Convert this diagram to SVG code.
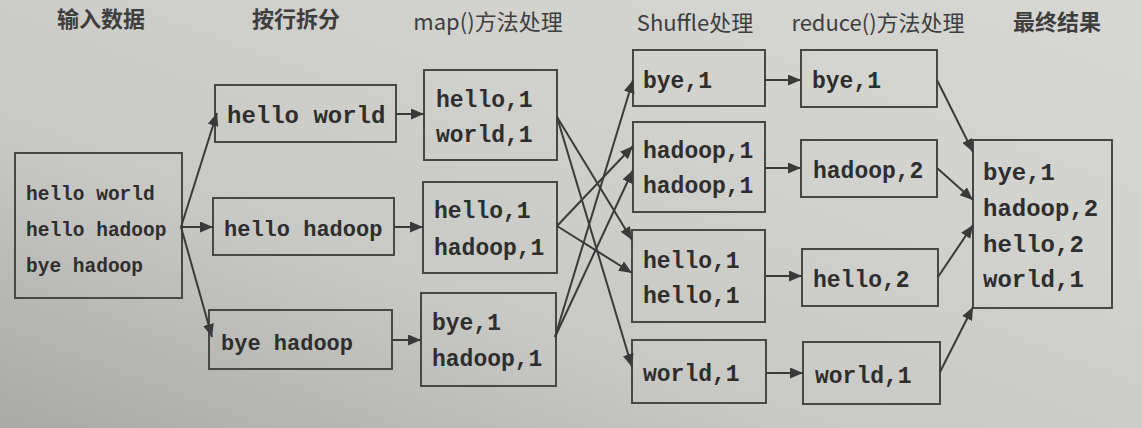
<svg xmlns="http://www.w3.org/2000/svg" width="1142" height="428" viewBox="0 0 1142 428">
<defs>
<linearGradient id="bg" x1="0" y1="1" x2="1" y2="0">
<stop offset="0" stop-color="#a9a9a5"/>
<stop offset="0.35" stop-color="#c8c8c4"/>
<stop offset="0.7" stop-color="#d2d2ce"/>
<stop offset="1" stop-color="#d6d6d2"/>
</linearGradient>
<marker id="ah" markerUnits="userSpaceOnUse" markerWidth="13" markerHeight="11" refX="13" refY="5.5" orient="auto">
<path d="M0,0 L13,5.5 L0,11 z" fill="#3a3a3a"/>
</marker>
<style>
.box{fill:none;stroke:#474747;stroke-width:2}
.m{font-family:"Liberation Mono","Courier New",monospace;font-weight:bold;font-size:23px;fill:#2e2e2e}
.t{font-family:"Noto Sans CJK SC","Noto Sans",sans-serif;font-size:22px;fill:#3e3e3e;text-anchor:middle}
.tb{font-weight:bold}
.c line{stroke:#3a3a3a;stroke-width:2;marker-end:url(#ah)}
</style>
</defs>
<rect x="0" y="0" width="1142" height="428" fill="url(#bg)"/>

<g id="titles">
<text class="t tb" x="101" y="27">输入数据</text>
<text class="t tb" x="296" y="27">按行拆分</text>
<text class="t" x="488" y="30">map()方法处理</text>
<text class="t" x="695" y="31">Shuffle处理</text>
<text class="t" x="878" y="31">reduce()方法处理</text>
<text class="t tb" x="1057" y="30">最终结果</text>
</g>

<g id="input">
<rect class="box" x="15" y="153" width="167" height="145"/>
<text class="m" x="26" y="200" style="font-size:19.5px">hello world</text>
<text class="m" x="26" y="236" style="font-size:19.5px">hello hadoop</text>
<text class="m" x="26" y="272" style="font-size:19.5px">bye hadoop</text>
</g>

<g id="split1">
<rect class="box" x="215" y="85" width="181" height="57"/>
<text class="m" x="227" y="123" style="font-size:24px">hello world</text>
</g>
<g id="split2">
<rect class="box" x="213" y="198" width="181" height="57"/>
<text class="m" x="224" y="236" style="font-size:22px">hello hadoop</text>
</g>
<g id="split3">
<rect class="box" x="209" y="310" width="183" height="59"/>
<text class="m" x="221" y="350" style="font-size:22px">bye hadoop</text>
</g>

<g id="map1">
<rect class="box" x="424" y="70" width="133" height="90"/>
<text class="m" x="436" y="107">hello,1</text>
<text class="m" x="436" y="142">world,1</text>
</g>
<g id="map2">
<rect class="box" x="423" y="182" width="134" height="91"/>
<text class="m" x="434" y="218">hello,1</text>
<text class="m" x="434" y="255">hadoop,1</text>
</g>
<g id="map3">
<rect class="box" x="421" y="293" width="135" height="93"/>
<text class="m" x="432" y="330">bye,1</text>
<text class="m" x="432" y="366">hadoop,1</text>
</g>

<g id="shuffle1">
<rect class="box" x="633" y="50" width="132" height="56"/>
<text class="m" x="643" y="88">bye,1</text>
</g>
<g id="shuffle2">
<rect class="box" x="633" y="122" width="132" height="90"/>
<text class="m" x="643" y="158">hadoop,1</text>
<text class="m" x="643" y="193">hadoop,1</text>
</g>
<g id="shuffle3">
<rect class="box" x="632" y="230" width="133" height="92"/>
<text class="m" x="643" y="268">hello,1</text>
<text class="m" x="643" y="303">hello,1</text>
</g>
<g id="shuffle4">
<rect class="box" x="632" y="340" width="134" height="63"/>
<text class="m" x="643" y="381">world,1</text>
</g>

<g id="reduce1">
<rect class="box" x="801" y="50" width="136" height="57"/>
<text class="m" x="812" y="88">bye,1</text>
</g>
<g id="reduce2">
<rect class="box" x="801" y="140" width="136" height="57"/>
<text class="m" x="813" y="178">hadoop,2</text>
</g>
<g id="reduce3">
<rect class="box" x="802" y="249" width="136" height="57"/>
<text class="m" x="813" y="287">hello,2</text>
</g>
<g id="reduce4">
<rect class="box" x="803" y="342" width="137" height="62"/>
<text class="m" x="815" y="383">world,1</text>
</g>

<g id="result">
<rect class="box" x="973" y="140" width="139" height="168"/>
<text class="m" x="983" y="180" style="font-size:24px">bye,1</text>
<text class="m" x="983" y="216" style="font-size:24px">hadoop,2</text>
<text class="m" x="983" y="252" style="font-size:24px">hello,2</text>
<text class="m" x="983" y="287" style="font-size:24px">world,1</text>
</g>

<g id="connectors" class="c">
<line x1="181" y1="227" x2="217" y2="113"/>
<line x1="181" y1="227" x2="213" y2="227"/>
<line x1="181" y1="227" x2="212" y2="337"/>
<line x1="396" y1="114" x2="424" y2="114"/>
<line x1="394" y1="227" x2="423" y2="227"/>
<line x1="392" y1="340" x2="421" y2="340"/>
<line x1="557" y1="117" x2="632" y2="240"/>
<line x1="557" y1="117" x2="632" y2="367"/>
<line x1="557" y1="226" x2="633" y2="146"/>
<line x1="557" y1="226" x2="632" y2="273"/>
<line x1="555" y1="337" x2="633" y2="80"/>
<line x1="555" y1="337" x2="633" y2="170"/>
<line x1="765" y1="80" x2="801" y2="80"/>
<line x1="765" y1="168" x2="801" y2="168"/>
<line x1="765" y1="276" x2="802" y2="276"/>
<line x1="766" y1="373" x2="803" y2="373"/>
<line x1="937" y1="80" x2="973" y2="152"/>
<line x1="937" y1="168" x2="973" y2="200"/>
<line x1="938" y1="277" x2="973" y2="225"/>
<line x1="940" y1="372" x2="973" y2="307"/>
</g>
</svg>
